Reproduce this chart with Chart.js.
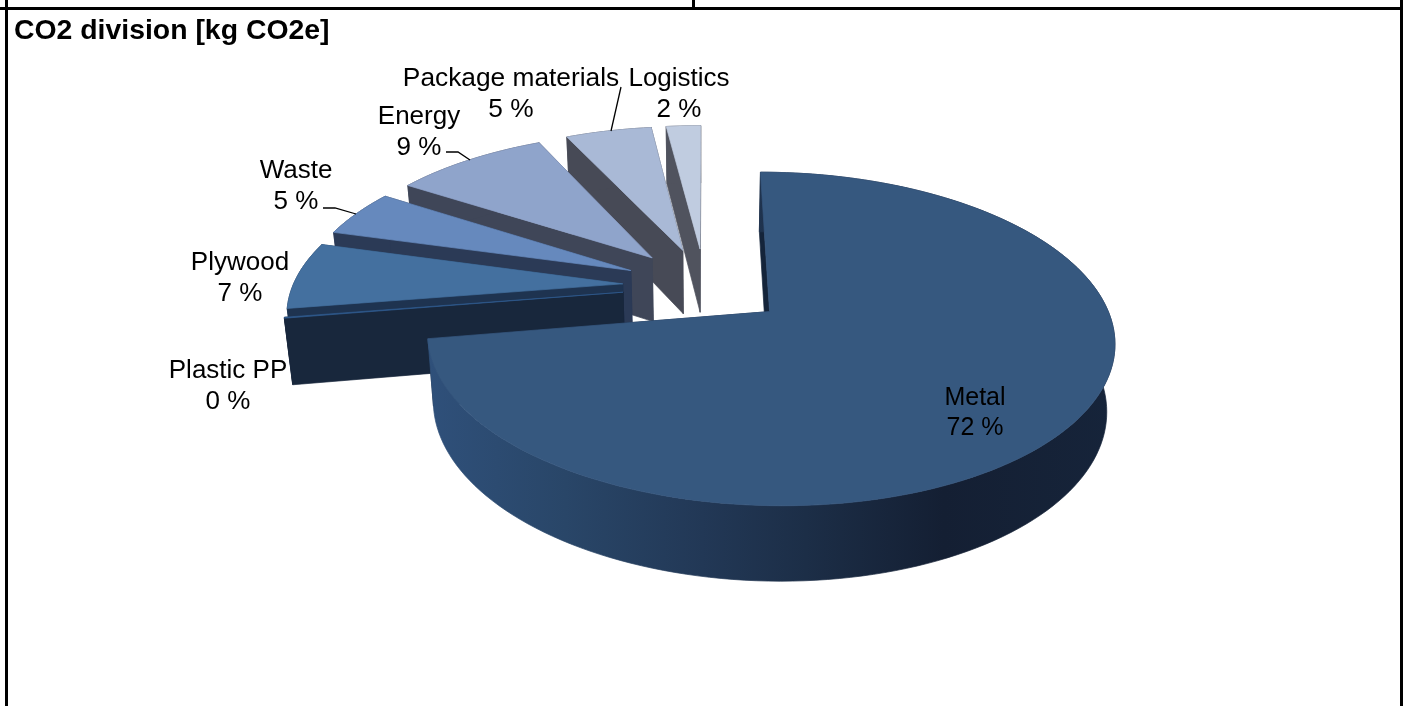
<!DOCTYPE html>
<html>
<head>
<meta charset="utf-8">
<title>CO2 division</title>
<script src="https://cdn.jsdelivr.net/npm/chart.js@4/dist/chart.umd.js"></script>
<style>
    html, body { margin: 0; padding: 0; background: #fff; overflow: hidden; }
    #wrap { position: relative; width: 1406px; height: 706px; }
    #wrap div { position: absolute; background: #000; }
    canvas { position: absolute; left: 0; top: 0; }
</style>
</head>
<body>
<div id="wrap">
    <canvas id="pie" width="1406" height="706"></canvas>
    <div style="left:0;top:7px;width:1403px;height:3px"></div>
    <div style="left:692px;top:0;width:3px;height:8px"></div>
    <div style="left:5px;top:0;width:3px;height:706px"></div>
    <div style="left:1400px;top:0;width:3px;height:706px"></div>
</div>
<script>
const categories = ["Metal", "Plastic PP", "Plywood", "Waste", "Energy", "Package materials", "Logistics"];
const shares = [72.4, 0.1, 6.8, 4.8, 8.9, 5.0, 2.0];

const sliceColors = ["#36587f", "#2f5a8e", "#44709f", "#6689bd", "#8fa4cb", "#a9b9d6", "#c0cce0"];
const wallColors = [null, "#18273c", "#1e3350", "#2b3a56", "#3f4658", "#474a56", "#50535e"];
const metalWall = ["#2f507a", "#294668", "#223856", "#1c2e47", "#141f33", "#16243a"];
const metalWallStops = [0, 0.2, 0.4, 0.55, 0.75, 1];

// pie plane -> screen, looks like the office 3D pie
const view = { cx: 705, cy: 286, sx: 330, sy: 154, k: 0.16, depth: 65, shrink: 0.02 };

function project(u, v, z) {
    const w = 1 - view.k * v;
    const s = 1 - z * view.shrink;
    return [view.cx + view.sx * u * s / w, view.cy + (view.sy * v * s + z * view.depth) / w];
}

class Pie3DController extends Chart.DoughnutController {
    draw() {
        const ctx = this.chart.ctx;
        const explode = this.getDataset().explode;
        const arcs = this.getMeta().data;
        // far slices first, Metal last
        for (let i = arcs.length - 1; i >= 0; i--) {
            const a = arcs[i];
            const mid = (a.startAngle + a.endAngle) / 2;
            const ox = Math.cos(mid) * explode;
            const oy = Math.sin(mid) * explode;
            const rim = [];
            const steps = Math.max(1, Math.ceil((a.endAngle - a.startAngle) / 0.03));
            for (let s = 0; s <= steps; s++) {
                const t = a.startAngle + (a.endAngle - a.startAngle) * s / steps;
                rim.push([ox + Math.cos(t), oy + Math.sin(t)]);
            }
            const poly = (pts, fill) => {
                ctx.beginPath();
                pts.forEach((p, n) => n ? ctx.lineTo(p[0], p[1]) : ctx.moveTo(p[0], p[1]));
                ctx.closePath();
                ctx.fillStyle = fill;
                ctx.strokeStyle = fill;
                ctx.lineWidth = 0.7;
                ctx.fill();
                ctx.stroke();
            };
            const top = rim.map((p) => project(p[0], p[1], 0));
            const bottom = rim.map((p) => project(p[0], p[1], 1));
            const apexTop = project(ox, oy, 0);
            const apexBottom = project(ox, oy, 1);
            const last = top.length - 1;

            let wall = wallColors[i];
            if (!wall) {
                const xs = top.map((p) => p[0]);
                wall = ctx.createLinearGradient(Math.min(...xs), 0, Math.max(...xs), 0);
                metalWall.forEach((c, n) => wall.addColorStop(metalWallStops[n], c));
                poly([apexTop, top[last], bottom[last], apexBottom], "#1a2c45");
                poly([apexTop, top[0], bottom[0], apexBottom], "#14243a");
            } else {
                poly([apexTop, top[last], bottom[last], apexBottom], wall);
                poly([apexTop, top[0], bottom[0], apexBottom], wall);
            }
            poly(top.concat(bottom.slice().reverse()), wall);
            poly([apexTop].concat(top), sliceColors[i]);
        }
    }
}
Pie3DController.id = "pie3d";
Chart.register(Pie3DController);

const labelPlugin = {
    id: "sliceLabels",
    afterDraw(chart, args, opts) {
        const ctx = chart.ctx;
        const values = chart.data.datasets[0].data;
        const total = values.reduce((s, x) => s + x, 0);
        ctx.save();
        ctx.fillStyle = "#000";
        ctx.textAlign = "center";
        ctx.textBaseline = "middle";
        chart.data.labels.forEach((name, i) => {
            const pos = opts.places[i];
            ctx.font = opts.sizes[i] + "px " + opts.family;
            ctx.fillText(name, pos[0], pos[1]);
            ctx.fillText(Math.round(values[i] / total * 100) + " %", pos[0], pos[1] + opts.lineGap);
        });
        ctx.strokeStyle = "#000";
        ctx.lineWidth = 1.3;
        opts.leaders.forEach((line) => {
            ctx.beginPath();
            line.forEach((p, n) => n ? ctx.lineTo(p[0], p[1]) : ctx.moveTo(p[0], p[1]));
            ctx.stroke();
        });
        ctx.restore();
    }
};

new Chart(document.getElementById("pie"), {
    type: "pie3d",
    plugins: [labelPlugin],
    data: {
        labels: categories,
        datasets: [{ data: shares, explode: 0.25 }]
    },
    options: {
        responsive: false,
        animation: false,
        events: [],
        layout: { padding: { left: 14, top: 14 } },
        plugins: {
            legend: { display: false },
            tooltip: { enabled: false },
            title: {
                display: true,
                text: "CO2 division [kg CO2e]",
                align: "start",
                color: "#000",
                font: { family: "'Liberation Sans', Arial, sans-serif", size: 28.4, weight: "bold" },
                padding: { top: 0, bottom: 0 }
            },
            sliceLabels: {
                family: "'Liberation Sans', Arial, sans-serif",
                sizes: [25, 26, 26, 26, 26, 26.3, 26],
                lineGap: 30.5,
                places: [[975, 398], [228, 371], [240, 263], [296, 171], [419, 117], [511, 79], [679, 79]],
                leaders: [
                    [[621, 87], [611, 131]],
                    [[446, 152], [458, 152], [470, 160]],
                    [[323, 208], [335, 208], [356, 214]]
                ]
            }
        }
    }
});
</script>
</body>
</html>
